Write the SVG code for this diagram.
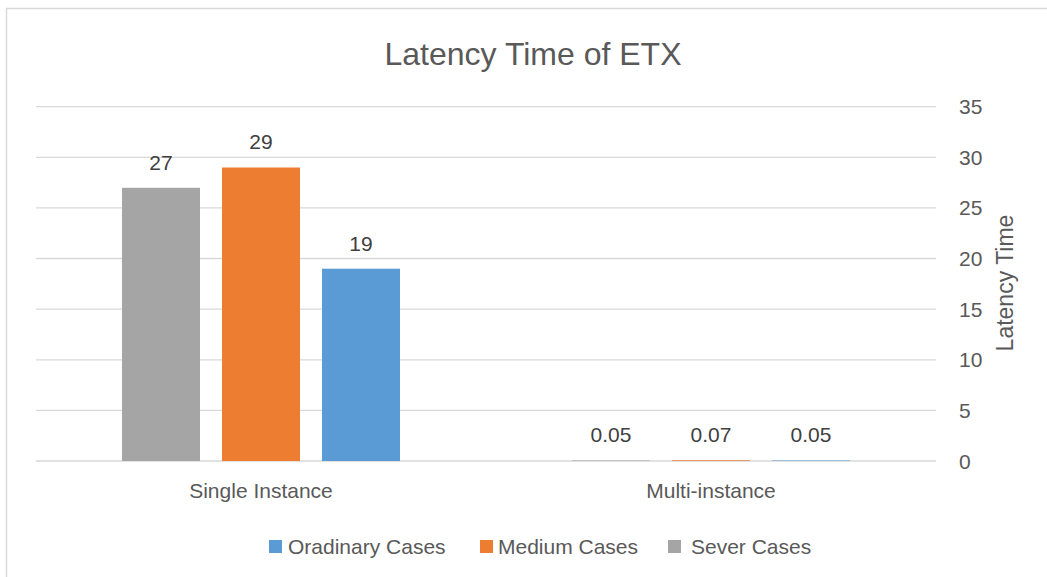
<svg xmlns="http://www.w3.org/2000/svg" width="1047" height="577" viewBox="0 0 1047 577">
<style>
  text { font-family: "Liberation Sans", Arial, sans-serif; fill: #595959; }
  .tick { font-size: 21px; }
  .lbl { font-size: 21px; fill: #404040; text-anchor: middle; }
  .cat { font-size: 21px; text-anchor: middle; }
  .grid { stroke: #d9d9d9; stroke-width: 1.3; }
  .sev { fill: #a5a5a5; }
  .med { fill: #ed7d31; }
  .ord { fill: #5b9bd5; }
</style>
<rect x="0" y="0" width="1047" height="577" fill="#ffffff"/>
<path d="M6.5 577 V8.5 H1047" fill="none" stroke="#d9d9d9" stroke-width="1.5"/>
<text id="title" x="533" y="65" font-size="32" text-anchor="middle">Latency Time of ETX</text>
<g id="gridlines">
  <line class="grid" x1="36" y1="106.7" x2="936" y2="106.7"/>
  <line class="grid" x1="36" y1="157.3" x2="936" y2="157.3"/>
  <line class="grid" x1="36" y1="207.9" x2="936" y2="207.9"/>
  <line class="grid" x1="36" y1="258.5" x2="936" y2="258.5"/>
  <line class="grid" x1="36" y1="309.2" x2="936" y2="309.2"/>
  <line class="grid" x1="36" y1="359.8" x2="936" y2="359.8"/>
  <line class="grid" x1="36" y1="410.4" x2="936" y2="410.4"/>
  <line class="grid" x1="36" y1="461" x2="936" y2="461"/>
</g>
<g id="axis">
  <text class="tick" x="959" y="114">35</text>
  <text class="tick" x="959" y="164.8">30</text>
  <text class="tick" x="959" y="215.4">25</text>
  <text class="tick" x="959" y="266">20</text>
  <text class="tick" x="959" y="316.7">15</text>
  <text class="tick" x="959" y="367.3">10</text>
  <text class="tick" x="959" y="417.9">5</text>
  <text class="tick" x="959" y="468.5">0</text>
  <text transform="translate(1013,283) rotate(-90)" x="0" y="0" font-size="23" text-anchor="middle">Latency Time</text>
</g>
<g id="single-instance">
  <rect class="sev" x="122" y="187.8" width="78" height="273.2"/>
  <rect class="med" x="222" y="167.5" width="78" height="293.5"/>
  <rect class="ord" x="322" y="268.7" width="78" height="192.3"/>
  <text class="lbl" x="161" y="170">27</text>
  <text class="lbl" x="261" y="149.3">29</text>
  <text class="lbl" x="361" y="250.7">19</text>
  <text class="cat" x="261" y="498">Single Instance</text>
</g>
<g id="multi-instance">
  <rect class="sev" x="572" y="460.5" width="78" height="0.5"/>
  <rect class="med" x="672" y="460.3" width="78" height="0.7"/>
  <rect class="ord" x="772" y="460.5" width="78" height="0.5"/>
  <text class="lbl" x="611" y="442">0.05</text>
  <text class="lbl" x="711" y="442">0.07</text>
  <text class="lbl" x="811" y="442">0.05</text>
  <text class="cat" x="711" y="498">Multi-instance</text>
</g>
<g id="legend">
  <rect class="ord" x="269" y="540" width="13" height="13"/>
  <text class="tick" x="288" y="554">Oradinary Cases</text>
  <rect class="med" x="480" y="540" width="13" height="13"/>
  <text class="tick" x="498" y="554">Medium Cases</text>
  <rect class="sev" x="668" y="540" width="13" height="13"/>
  <text class="tick" x="691" y="554">Sever Cases</text>
</g>
</svg>
